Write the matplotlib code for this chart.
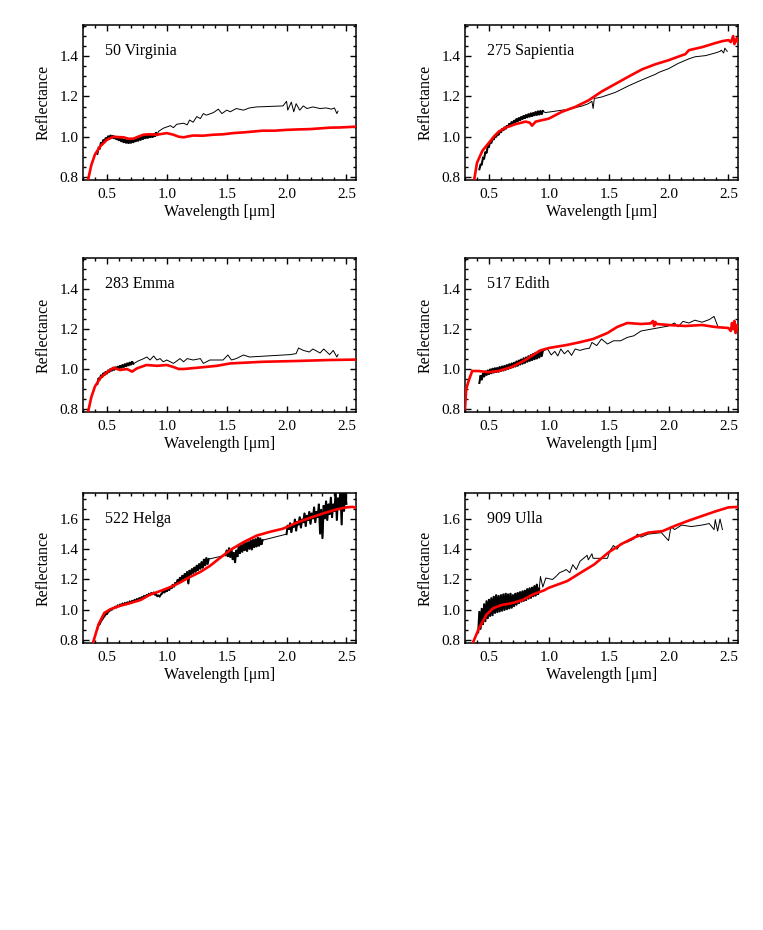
import numpy as np
import matplotlib
matplotlib.use("Agg")
import matplotlib.pyplot as plt
from matplotlib.ticker import MultipleLocator, FormatStrFormatter

plt.rcParams['font.family'] = ['Liberation Serif', 'DejaVu Serif']

# ---------------- DATA ----------------
names = ["50 Virginia", "275 Sapientia", "283 Emma", "517 Edith", "522 Helga", "909 Ulla"]

# ---- 50 Virginia ----
virginia_vis_range = (0.42, 0.92)
virginia_vis_R = [0.915, 0.945, 0.942, 0.972, 0.962, 0.985, 0.975, 0.995, 0.982, 1.004,
                  0.990, 1.008, 0.993, 1.006, 0.990, 1.002, 0.985, 0.998, 0.980, 0.995,
                  0.975, 0.990, 0.970, 0.988, 0.968, 0.985, 0.966, 0.984, 0.968, 0.986,
                  0.970, 0.990, 0.975, 0.995, 0.978, 1.000, 0.982, 1.004, 0.986, 1.008,
                  0.990, 1.010, 0.992, 1.012, 0.995, 1.012, 0.996, 1.015, 1.000, 1.022, 1.008]
virginia_nir_wl = [0.93, 0.97, 1.03, 1.055, 1.083, 1.14, 1.17, 1.19, 1.22, 1.25, 1.28, 1.305,
                   1.33, 1.39, 1.43, 1.46, 1.50, 1.53, 1.58, 1.64, 1.69, 1.75, 1.97, 2.00,
                   2.01, 2.04, 2.06, 2.08, 2.11, 2.14, 2.17, 2.22, 2.28, 2.33, 2.375, 2.40,
                   2.42, 2.43]
virginia_nir_R = [1.026, 1.042, 1.055, 1.045, 1.062, 1.067, 1.059, 1.083, 1.072, 1.100,
                  1.090, 1.115, 1.107, 1.120, 1.137, 1.115, 1.132, 1.124, 1.140, 1.132,
                  1.143, 1.148, 1.153, 1.176, 1.132, 1.172, 1.124, 1.164, 1.132, 1.153,
                  1.140, 1.148, 1.140, 1.143, 1.137, 1.143, 1.115, 1.127]
virginia_red_wl = [0.34, 0.37, 0.40, 0.445, 0.50, 0.555, 0.60, 0.64, 0.68, 0.72, 0.76, 0.805,
                   0.85, 0.917, 1.0, 1.055, 1.10, 1.14, 1.18, 1.22, 1.30, 1.39, 1.47, 1.555,
                   1.65, 1.80, 1.90, 2.00, 2.08, 2.20, 2.36, 2.45, 2.58]
virginia_red_R = [0.78, 0.86, 0.912, 0.953, 0.985, 1.0, 0.998, 0.997, 0.99, 0.99, 1.0, 1.01,
                  1.012, 1.01, 1.018, 1.01, 1.0, 0.997, 1.002, 1.006, 1.005, 1.01, 1.012, 1.018,
                  1.022, 1.03, 1.03, 1.034, 1.036, 1.038, 1.045, 1.046, 1.05]

# ---- 275 Sapientia ----
sapientia_vis_range = (0.42, 0.95)
sapientia_vis_R = [0.838, 0.862, 0.862, 0.895, 0.892, 0.925, 0.918, 0.952, 0.950, 0.975,
                   0.968, 0.992, 0.985, 1.006, 0.998, 1.018, 1.008, 1.030, 1.020, 1.040,
                   1.030, 1.048, 1.038, 1.056, 1.046, 1.066, 1.054, 1.075, 1.060, 1.082,
                   1.068, 1.090, 1.075, 1.095, 1.080, 1.100, 1.086, 1.106, 1.090, 1.110,
                   1.094, 1.114, 1.098, 1.118, 1.100, 1.120, 1.104, 1.125, 1.106, 1.128,
                   1.108, 1.130, 1.110, 1.128]
sapientia_nir_wl = [0.97, 1.055, 1.17, 1.28, 1.33, 1.36, 1.37, 1.38, 1.44, 1.555, 1.67, 1.78,
                    1.89, 1.92, 2.00, 2.08, 2.17, 2.22, 2.31, 2.39, 2.43, 2.44, 2.46, 2.47, 2.49]
sapientia_nir_R = [1.120, 1.127, 1.137, 1.153, 1.164, 1.176, 1.140, 1.190, 1.197, 1.220,
                   1.254, 1.283, 1.310, 1.320, 1.338, 1.364, 1.387, 1.397, 1.403, 1.416,
                   1.424, 1.430, 1.416, 1.440, 1.424]
sapientia_red_wl = [0.375, 0.40, 0.445, 0.50, 0.54, 0.583, 0.64, 0.72, 0.805, 0.84, 0.86,
                    0.89, 1.0, 1.11, 1.22, 1.33, 1.44, 1.555, 1.67, 1.78, 1.89, 2.0, 2.11,
                    2.14, 2.17, 2.28, 2.39, 2.45, 2.50, 2.52, 2.54, 2.55, 2.57, 2.58]
sapientia_red_R = [0.78, 0.87, 0.93, 0.97, 1.0, 1.026, 1.045, 1.062, 1.075, 1.07, 1.055,
                   1.075, 1.09, 1.124, 1.148, 1.18, 1.224, 1.262, 1.30, 1.335, 1.36, 1.38,
                   1.404, 1.41, 1.43, 1.445, 1.465, 1.475, 1.48, 1.47, 1.50, 1.46, 1.49, 1.47]

# ---- 283 Emma ----
emma_vis_range = (0.42, 0.72)
emma_vis_R = [0.925, 0.955, 0.945, 0.970, 0.958, 0.980, 0.968, 0.988, 0.975, 0.995,
              0.984, 1.002, 0.990, 1.008, 0.994, 1.010, 0.997, 1.014, 1.000, 1.018,
              1.004, 1.022, 1.008, 1.026, 1.012, 1.030, 1.016, 1.034, 1.020, 1.038, 1.026]
emma_nir_wl = [0.76, 0.80, 0.833, 0.86, 0.89, 0.917, 0.944, 0.97, 1.0, 1.055, 1.11, 1.14,
               1.17, 1.22, 1.28, 1.305, 1.36, 1.47, 1.51, 1.54, 1.58, 1.64, 1.69, 2.03,
               2.08, 2.10, 2.14, 2.19, 2.22, 2.28, 2.31, 2.36, 2.39, 2.42, 2.43]
emma_nir_R = [1.040, 1.050, 1.060, 1.045, 1.065, 1.045, 1.052, 1.036, 1.045, 1.028, 1.052,
              1.036, 1.052, 1.045, 1.052, 1.028, 1.045, 1.045, 1.070, 1.045, 1.052, 1.070,
              1.060, 1.072, 1.077, 1.105, 1.093, 1.085, 1.100, 1.080, 1.100, 1.072, 1.093,
              1.060, 1.072]
emma_red_wl = [0.34, 0.37, 0.40, 0.445, 0.50, 0.555, 0.61, 0.667, 0.71, 0.75, 0.83, 0.917,
               1.0, 1.055, 1.10, 1.14, 1.25, 1.42, 1.53, 1.80, 2.08, 2.36, 2.58]
emma_red_R = [0.78, 0.86, 0.913, 0.955, 0.984, 1.006, 0.995, 1.0, 0.987, 1.003, 1.02, 1.016,
              1.02, 1.01, 1.0, 1.0, 1.006, 1.016, 1.028, 1.036, 1.04, 1.045, 1.047]

# ---- 517 Edith ----
edith_vis_range = (0.42, 0.95)
edith_vis_R = [0.930, 0.968, 0.945, 0.978, 0.960, 0.990, 0.968, 0.995, 0.972, 1.000,
               0.976, 1.004, 0.980, 1.006, 0.982, 1.008, 0.984, 1.012, 0.988, 1.015,
               0.990, 1.018, 0.994, 1.022, 0.998, 1.026, 1.002, 1.030, 1.006, 1.034,
               1.010, 1.040, 1.014, 1.045, 1.020, 1.050, 1.024, 1.056, 1.028, 1.060,
               1.034, 1.066, 1.038, 1.072, 1.042, 1.078, 1.046, 1.084, 1.050, 1.090,
               1.055, 1.095, 1.062, 1.090]
edith_nir_wl = [0.99, 1.02, 1.05, 1.075, 1.10, 1.13, 1.16, 1.19, 1.22, 1.26, 1.30, 1.34,
                1.36, 1.40, 1.44, 1.49, 1.54, 1.60, 1.655, 1.71, 1.77, 2.00, 2.05, 2.08,
                2.12, 2.17, 2.22, 2.28, 2.34, 2.38, 2.41, 2.42]
edith_nir_R = [1.100, 1.070, 1.088, 1.065, 1.100, 1.076, 1.093, 1.068, 1.100, 1.093, 1.100,
               1.104, 1.133, 1.117, 1.150, 1.125, 1.141, 1.141, 1.158, 1.166, 1.190, 1.215,
               1.230, 1.211, 1.238, 1.230, 1.244, 1.234, 1.247, 1.263, 1.215, 1.206]
edith_red_wl = [0.30, 0.31, 0.33, 0.36, 0.41, 0.50, 0.58, 0.69, 0.80, 0.93, 1.0, 1.15, 1.26,
                1.37, 1.49, 1.57, 1.655, 1.77, 1.85, 1.87, 1.88, 1.89, 1.90, 2.0, 2.14,
                2.28, 2.39, 2.50, 2.52, 2.53, 2.54, 2.55, 2.56, 2.57, 2.58]
edith_red_R = [0.80, 0.90, 0.94, 0.99, 0.99, 0.984, 0.99, 1.01, 1.044, 1.093, 1.105, 1.12,
               1.134, 1.15, 1.18, 1.21, 1.23, 1.225, 1.228, 1.24, 1.215, 1.235, 1.225, 1.22,
               1.215, 1.22, 1.21, 1.205, 1.19, 1.23, 1.20, 1.24, 1.18, 1.22, 1.20]

# ---- 522 Helga ----
helga_vis_range = (0.42, 0.95)
helga_vis_R = [0.875, 0.900, 0.905, 0.925, 0.935, 0.948, 0.958, 0.970, 0.972, 0.988,
               0.990, 1.002, 1.000, 1.012, 1.010, 1.020, 1.016, 1.028, 1.024, 1.034,
               1.030, 1.040, 1.034, 1.044, 1.038, 1.048, 1.042, 1.054, 1.048, 1.058,
               1.054, 1.064, 1.060, 1.070, 1.066, 1.076, 1.072, 1.082, 1.078, 1.090,
               1.084, 1.096, 1.092, 1.104, 1.098, 1.110, 1.104, 1.112, 1.100, 1.102,
               1.090, 1.094, 1.088, 1.100]
helga_nir1_range = (0.96, 1.35)
helga_nir1_R = [1.108, 1.125, 1.112, 1.132, 1.120, 1.145, 1.128, 1.152, 1.140, 1.168,
                1.150, 1.180, 1.165, 1.200, 1.175, 1.215, 1.190, 1.228, 1.200, 1.240,
                1.212, 1.252, 1.170, 1.262, 1.230, 1.272, 1.240, 1.282, 1.248, 1.295,
                1.258, 1.305, 1.268, 1.318, 1.275, 1.335, 1.290, 1.345, 1.300, 1.335]
helga_nir2_range = (1.49, 1.80)
helga_nir2_R = [1.360, 1.395, 1.350, 1.410, 1.345, 1.400, 1.330, 1.380, 1.310, 1.395,
                1.350, 1.420, 1.370, 1.430, 1.380, 1.440, 1.390, 1.445, 1.385, 1.450,
                1.400, 1.460, 1.395, 1.465, 1.410, 1.470, 1.415, 1.480, 1.420, 1.475,
                1.430, 1.460]
helga_nir3_range = (2.00, 2.50)
helga_nir3_R = [1.500, 1.560, 1.530, 1.575, 1.510, 1.560, 1.545, 1.600, 1.520, 1.585,
                1.560, 1.615, 1.540, 1.600, 1.575, 1.640, 1.550, 1.625, 1.590, 1.650,
                1.565, 1.640, 1.600, 1.680, 1.575, 1.650, 1.610, 1.700, 1.500, 1.665,
                1.470, 1.690, 1.600, 1.720, 1.590, 1.700, 1.630, 1.745, 1.610, 1.700,
                1.650, 1.780, 1.590, 1.740, 1.660, 1.820, 1.560, 1.800, 1.650, 1.790, 1.700]
helga_red_wl = [0.383, 0.43, 0.478, 0.53, 0.61, 0.69, 0.78, 0.86, 0.94, 1.03, 1.11, 1.19,
                1.28, 1.36, 1.44, 1.53, 1.64, 1.75, 1.86, 1.97, 2.08, 2.19, 2.31, 2.42, 2.50,
                2.55, 2.58]
helga_red_R = [0.78, 0.904, 0.979, 1.004, 1.026, 1.043, 1.064, 1.100, 1.122, 1.150, 1.180,
               1.215, 1.250, 1.290, 1.340, 1.395, 1.447, 1.49, 1.515, 1.536, 1.574, 1.606,
               1.638, 1.664, 1.677, 1.68, 1.675]

# ---- 909 Ulla ----
ulla_vis_range = (0.41, 0.92)
ulla_vis_R = [0.850, 0.990, 0.870, 1.010, 0.900, 1.040, 0.920, 1.060, 0.940, 1.070,
              0.955, 1.080, 0.960, 1.090, 0.975, 1.100, 0.980, 1.095, 0.985, 1.100,
              0.990, 1.105, 0.995, 1.110, 1.000, 1.105, 1.005, 1.110, 1.010, 1.100,
              1.020, 1.110, 1.030, 1.115, 1.040, 1.120, 1.050, 1.125, 1.055, 1.130,
              1.060, 1.140, 1.070, 1.145, 1.075, 1.150, 1.085, 1.160, 1.090, 1.170,
              1.100, 1.140]
ulla_nir_wl = [0.93, 0.95, 0.975, 1.03, 1.06, 1.09, 1.12, 1.145, 1.175, 1.20, 1.23, 1.26,
               1.29, 1.32, 1.33, 1.36, 1.37, 1.49, 1.51, 1.54, 1.57, 1.60, 1.655, 1.71, 1.74,
               1.77, 1.83, 1.94, 2.00, 2.02, 2.05, 2.11, 2.19, 2.28, 2.34, 2.38, 2.39, 2.41,
               2.43, 2.45]
ulla_nir_R = [1.220, 1.150, 1.210, 1.200, 1.220, 1.245, 1.255, 1.266, 1.245, 1.298, 1.266,
              1.320, 1.340, 1.360, 1.330, 1.370, 1.340, 1.340, 1.390, 1.425, 1.400, 1.436,
              1.447, 1.468, 1.500, 1.480, 1.500, 1.510, 1.457, 1.550, 1.530, 1.560, 1.550,
              1.560, 1.570, 1.530, 1.596, 1.520, 1.600, 1.530]
ulla_red_wl = [0.365, 0.42, 0.48, 0.535, 0.61, 0.69, 0.78, 0.87, 0.96, 1.0, 1.155, 1.27,
               1.38, 1.50, 1.61, 1.72, 1.83, 1.95, 2.06, 2.17, 2.28, 2.39, 2.50, 2.58]
ulla_red_R = [0.78, 0.883, 0.968, 1.01, 1.032, 1.043, 1.064, 1.102, 1.128, 1.145, 1.19,
              1.247, 1.30, 1.38, 1.436, 1.48, 1.51, 1.52, 1.557, 1.59, 1.62, 1.65, 1.677, 1.68]

xlim = (0.3, 2.58)
ylim_top = (0.785, 1.555)
ylim_bottom = (0.78, 1.772)


def seg(rng, vals):
    return np.linspace(rng[0], rng[1], len(vals)), np.asarray(vals, dtype=float)


def joined(vis_rng, vis_R, nir_wl, nir_R):
    dense = seg(vis_rng, vis_R)
    sparse = (np.r_[vis_rng[1], nir_wl], np.r_[vis_R[-1], nir_R])
    return [dense], [sparse]


panels = []
for nm, dense_sparse, red, yl in [
    (names[0], joined(virginia_vis_range, virginia_vis_R, virginia_nir_wl, virginia_nir_R),
     (virginia_red_wl, virginia_red_R), ylim_top),
    (names[1], joined(sapientia_vis_range, sapientia_vis_R, sapientia_nir_wl, sapientia_nir_R),
     (sapientia_red_wl, sapientia_red_R), ylim_top),
    (names[2], joined(emma_vis_range, emma_vis_R, emma_nir_wl, emma_nir_R),
     (emma_red_wl, emma_red_R), ylim_top),
    (names[3], joined(edith_vis_range, edith_vis_R, edith_nir_wl, edith_nir_R),
     (edith_red_wl, edith_red_R), ylim_top),
    (names[4], ([seg(helga_vis_range, helga_vis_R), seg(helga_nir1_range, helga_nir1_R),
                 seg(helga_nir2_range, helga_nir2_R), seg(helga_nir3_range, helga_nir3_R)], []),
     (helga_red_wl, helga_red_R), ylim_bottom),
    (names[5], joined(ulla_vis_range, ulla_vis_R, ulla_nir_wl, ulla_nir_R),
     (ulla_red_wl, ulla_red_R), ylim_bottom),
]:
    panels.append(dict(name=nm, dense=dense_sparse[0], sparse=dense_sparse[1], red=red, ylim=yl))

# ---------------- LAYOUT ----------------
W, H = 763, 930
fig = plt.figure(figsize=(W / 100, H / 100), dpi=100)
col_x = [83, 465]
ax_w = 273
rows = [(25, 180), (258, 412), (493, 643)]

for i, p in enumerate(panels):
    r, c = divmod(i, 2)
    top, bot = rows[r]
    ax = fig.add_axes([col_x[c] / W, 1 - bot / H, ax_w / W, (bot - top) / H])
    # full continuous black spectrum (thin), dense noisy parts drawn a bit heavier
    bx = np.concatenate([s[0] for s in p['dense'] + p['sparse']])
    by = np.concatenate([s[1] for s in p['dense'] + p['sparse']])
    order = np.argsort(bx, kind='stable')
    ax.plot(bx[order], by[order], color='black', lw=0.7, zorder=2)
    for sx, sy in p['dense']:
        ax.plot(sx, sy, color='black', lw=1.45, zorder=2, solid_joinstyle='miter')
    ax.plot(p['red'][0], p['red'][1], color='#ff0000', lw=1.9, zorder=3)
    ax.set_xlim(*xlim)
    ax.set_ylim(*p['ylim'])
    ax.xaxis.set_major_locator(MultipleLocator(0.5))
    ax.xaxis.set_minor_locator(MultipleLocator(0.1))
    ax.yaxis.set_major_locator(MultipleLocator(0.2))
    if r == 2:
        ax.yaxis.set_minor_locator(MultipleLocator(0.2 / 3))
    else:
        ax.yaxis.set_minor_locator(MultipleLocator(0.05))
    ax.tick_params(which='both', direction='in', top=True, right=True,
                   labelsize=11, width=1.0, colors='black')
    ax.tick_params(which='major', length=4)
    ax.tick_params(which='minor', length=2.2)
    ax.tick_params(axis='x', pad=6)
    ax.tick_params(axis='y', pad=3)
    ax.xaxis.set_major_formatter(FormatStrFormatter('%.1f'))
    ax.yaxis.set_major_formatter(FormatStrFormatter('%.1f'))
    for sp in ax.spines.values():
        sp.set_linewidth(1.1)
    ax.set_xlabel('Wavelength [μm]', fontsize=11.5, labelpad=2)
    ax.set_ylabel('Reflectance', fontsize=11.5, labelpad=6)
    ax.text(0.08, 0.83, p['name'], transform=ax.transAxes, fontsize=11.5,
            ha='left', va='center')

fig.savefig('out.png', dpi=100)
